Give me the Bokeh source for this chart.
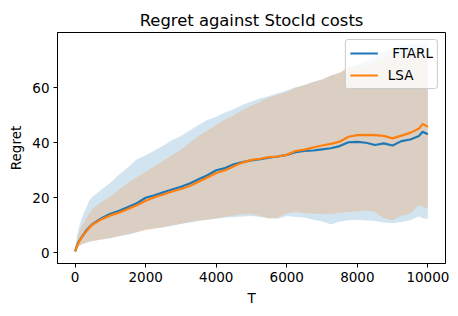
from bokeh.plotting import figure
from bokeh.models import Range1d, FixedTicker, Legend, LegendItem
from bokeh.embed import file_html
from bokeh.resources import INLINE

T = [0, 50, 100, 200, 300, 400, 500, 750, 1000, 1250, 1500, 1750, 2000, 2250, 2500, 2750,
     3000, 3250, 3500, 3750, 4000, 4250, 4500, 4750, 5000, 5250, 5500, 5750, 6000, 6250,
     6500, 6750, 7000, 7250, 7500, 7750, 8000, 8250, 8500, 8750, 9000, 9250, 9500, 9750,
     9850, 10000]

ftarl_mean = [0.5, 2.5, 4.0, 6.0, 7.8, 9.3, 10.5, 12.6, 14.2, 15.3, 16.6, 18.0, 20.0, 20.9,
              22.0, 23.0, 24.0, 25.2, 26.7, 28.2, 30.0, 30.8, 32.2, 33.0, 33.6, 34.0, 34.6,
              35.0, 35.6, 36.6, 37.0, 37.2, 37.6, 38.0, 38.8, 40.2, 40.3, 40.0, 39.2, 39.8,
              39.0, 40.6, 41.2, 42.5, 44.0, 43.1]
ftarl_upper = [0.8, 6.0, 9.0, 13.0, 16.0, 19.0, 20.5, 23.0, 25.5, 28.5, 31.0, 34.0, 35.5, 37.2,
               39.0, 41.0, 42.5, 44.5, 46.5, 48.3, 49.5, 51.0, 52.2, 53.8, 55.0, 56.2, 57.0,
               58.0, 59.0, 60.2, 61.0, 62.2, 63.0, 64.5, 65.5, 67.0, 68.5, 70.0, 71.5, 73.0,
               74.5, 75.5, 76.0, 76.3, 76.0, 75.8]
ftarl_lower = [0.3, 1.5, 2.5, 3.2, 3.6, 4.0, 4.3, 4.8, 5.3, 6.0, 6.6, 7.5, 8.6, 8.8, 9.2, 9.8,
               10.5, 11.0, 11.6, 12.0, 12.4, 12.8, 13.0, 13.2, 13.4, 13.0, 12.6, 12.4, 13.4,
               13.0, 12.8, 12.0, 11.5, 10.3, 11.4, 11.8, 12.0, 11.7, 11.6, 11.0, 10.8, 11.2,
               11.8, 13.2, 12.6, 12.4]

lsa_mean = [0.5, 2.3, 3.8, 5.8, 7.5, 9.0, 10.3, 12.2, 13.6, 14.6, 15.9, 17.3, 18.9, 20.2,
            21.2, 22.3, 23.2, 24.3, 25.8, 27.4, 29.0, 30.0, 31.5, 32.8, 33.8, 34.2, 34.8,
            35.0, 35.6, 37.0, 37.5, 38.3, 39.0, 39.6, 40.4, 42.2, 42.8, 42.9, 42.8, 42.5,
            41.6, 42.6, 43.6, 45.2, 46.8, 45.8]
lsa_upper = [0.8, 4.5, 7.0, 10.0, 12.0, 14.5, 16.0, 18.5, 20.5, 23.0, 25.5, 27.5, 29.5, 31.5,
             33.5, 35.5, 37.5, 40.0, 42.5, 44.5, 46.5, 48.5, 50.0, 52.0, 53.5, 55.0, 56.5,
             57.5, 58.5, 60.0, 61.0, 62.0, 63.0, 64.5, 65.5, 68.0, 68.0, 67.5, 69.5, 71.0,
             71.5, 72.5, 73.0, 72.5, 72.0, 72.0]
lsa_lower = [0.3, 1.2, 2.2, 3.1, 3.5, 4.0, 4.3, 4.8, 5.4, 6.1, 6.8, 7.5, 8.1, 8.7, 9.4, 10.0,
             10.6, 11.2, 11.7, 12.0, 12.5, 13.0, 13.6, 14.0, 14.2, 13.4, 12.4, 12.8, 14.4,
             14.8, 14.5, 14.2, 14.0, 14.2, 14.6, 14.8, 15.0, 15.4, 14.8, 12.6, 11.8, 13.5,
             14.2, 17.4, 16.8, 16.0]

x_ticks = [0, 2000, 4000, 6000, 8000, 10000]
y_ticks = [0, 20, 40, 60]

BLUE = "#1f77b4"
ORANGE = "#ff7f0e"
FONT = "DejaVu Sans"

p = figure(width=458, height=316, output_backend="svg", toolbar_location=None,
           x_range=Range1d(-500, 10500), y_range=Range1d(-3.9, 80.1),
           title="Regret against StocId costs",
           min_border_left=57, min_border_right=13, min_border_top=32, min_border_bottom=53)

p.title.align = "center"
p.title.text_font = FONT
p.title.text_font_size = "16.4px"
p.title.text_font_style = "normal"
p.title.text_color = "#000000"
p.title.standoff = 6

p.xgrid.visible = False
p.ygrid.visible = False
p.outline_line_color = "#000000"
p.outline_line_alpha = 1
p.outline_line_width = 1

for ax in (p.xaxis[0], p.yaxis[0]):
    ax.major_label_text_font = FONT
    ax.major_label_text_font_size = "13.5px"
    ax.major_label_text_color = "#000000"
    ax.axis_label_text_font = FONT
    ax.axis_label_text_font_size = "13.5px"
    ax.axis_label_text_font_style = "normal"
    ax.axis_label_text_color = "#000000"
    ax.major_tick_out = 4
    ax.major_tick_in = 0
    ax.minor_tick_out = 0
    ax.minor_tick_in = 0
    ax.axis_line_color = "#000000"
    ax.major_tick_line_color = "#000000"
    ax.major_label_standoff = 4
    ax.axis_label_standoff = 5

p.xaxis.ticker = FixedTicker(ticks=x_ticks)
p.yaxis.ticker = FixedTicker(ticks=y_ticks)
p.xaxis.axis_label = "T"
p.yaxis.axis_label = "Regret"

p.varea(x=T, y1=ftarl_lower, y2=ftarl_upper, fill_color=BLUE, fill_alpha=0.2)
p.varea(x=T, y1=lsa_lower, y2=lsa_upper, fill_color=ORANGE, fill_alpha=0.2)
r1 = p.line(T, ftarl_mean, line_color=BLUE, line_width=2.2)
r2 = p.line(T, lsa_mean, line_color=ORANGE, line_width=2.2)

legend = Legend(items=[LegendItem(label=" FTARL", renderers=[r1]),
                       LegendItem(label="LSA", renderers=[r2])],
                location="top_right")
legend.label_text_font = FONT
legend.label_text_font_size = "13.5px"
legend.label_text_color = "#000000"
legend.border_line_color = "#cccccc"
legend.border_line_alpha = 1
legend.border_radius = 3
legend.background_fill_alpha = 0.8
legend.margin = 7
legend.padding = 4
legend.spacing = 4
legend.glyph_width = 28
legend.glyph_height = 18
legend.label_height = 18
legend.label_standoff = 10
p.add_layout(legend)

open("out.html", "w").write(file_html(p, INLINE))
